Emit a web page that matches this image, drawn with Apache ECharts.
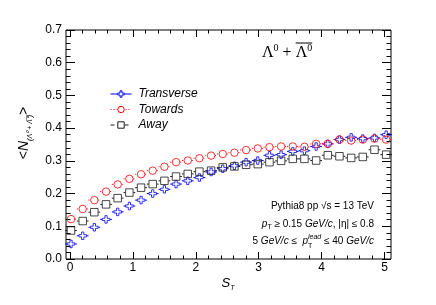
<!DOCTYPE html>
<html><head><meta charset="utf-8">
<script src="https://cdn.jsdelivr.net/npm/echarts@6/dist/echarts.min.js"></script>
<style>html,body{margin:0;padding:0;background:#fff}#c{width:436px;height:305px}</style>
</head><body><div id="c"></div>
<script>
// S_T bin centres
const sT = [0.016, 0.202, 0.387, 0.573, 0.758, 0.944, 1.130, 1.315, 1.501, 1.686,
            1.872, 2.057, 2.243, 2.428, 2.614, 2.800, 2.985, 3.171, 3.356, 3.542,
            3.727, 3.913, 4.099, 4.284, 4.470, 4.655, 4.841, 5.026];
const transverse = [0.046, 0.071, 0.097, 0.121, 0.144, 0.162, 0.180, 0.200, 0.213, 0.229,
                    0.239, 0.249, 0.266, 0.276, 0.285, 0.296, 0.301, 0.317, 0.319, 0.329,
                    0.331, 0.344, 0.352, 0.365, 0.372, 0.368, 0.370, 0.380];
const towards = [0.122, 0.153, 0.180, 0.206, 0.228, 0.245, 0.259, 0.270, 0.282, 0.296,
                 0.301, 0.308, 0.316, 0.321, 0.325, 0.333, 0.338, 0.342, 0.344, 0.344,
                 0.343, 0.352, 0.352, 0.365, 0.362, 0.365, 0.368, 0.365];
const away = [0.087, 0.116, 0.143, 0.167, 0.186, 0.203, 0.218, 0.229, 0.239, 0.252,
              0.260, 0.267, 0.270, 0.280, 0.283, 0.288, 0.290, 0.296, 0.300, 0.306,
              0.306, 0.301, 0.317, 0.314, 0.309, 0.312, 0.334, 0.319];
const seriesNames = ['Transverse', 'Towards', 'Away'];
const binHalf = 0.093;
const xMin = 0, xMax = 5, xStep = 1;
const yMin = 0, yMax = 0.7, yStep = 0.1;

const FONT = '"Liberation Sans", Arial, Helvetica, sans-serif';
const SERIF = '"Liberation Serif", "Times New Roman", serif';
const BLUE = '#0000ff', RED = '#ff0000', BLACK = '#1a1a1a';
const crossPath = 'path://M-1.2,-4L1.2,-4L1.2,-1.2L4,-1.2L4,1.2L1.2,1.2L1.2,4L-1.2,4L-1.2,1.2L-4,1.2L-4,-1.2L-1.2,-1.2Z';

const chart = echarts.init(document.getElementById('c'), null, {renderer: 'canvas'});

function pairs(vals) { return sT.map((x, i) => [x, vals[i]]); }

function barRenderer(color, dash, gap) {
  return function (params, api) {
    const x = api.value(0), y = api.value(1);
    const c = api.coord([x, y]);
    const l = api.coord([x - binHalf, y]);
    const r = api.coord([x + binHalf, y]);
    const style = {stroke: color, lineWidth: 1, lineDash: dash, fill: null};
    return {type: 'group', children: [
      {type: 'line', shape: {x1: l[0], y1: c[1], x2: c[0] - gap, y2: c[1]}, style: style},
      {type: 'line', shape: {x1: c[0] + gap, y1: c[1], x2: r[0], y2: c[1]}, style: style}
    ]};
  };
}

const defs = [
  {name: seriesNames[0], vals: transverse, color: BLUE, dash: null, ltype: 'solid', symbol: crossPath},
  {name: seriesNames[1], vals: towards, color: RED, dash: [1, 2], ltype: [1, 2], symbol: 'circle'},
  {name: seriesNames[2], vals: away, color: BLACK, dash: [4, 3], ltype: [4, 3], symbol: 'rect'}
];

const series = [];
defs.forEach(d => {
  series.push({
    type: 'custom', name: d.name + '_err', xAxisIndex: 0, yAxisIndex: 0,
    renderItem: barRenderer(d.color, d.dash, 4), data: pairs(d.vals), silent: true, z: 2
  });
  series.push({
    type: 'scatter', name: d.name + '_pts', xAxisIndex: 0, yAxisIndex: 0, clip: false,
    symbol: d.symbol, symbolSize: 7.5, data: pairs(d.vals), z: 3,
    itemStyle: {color: 'rgba(0,0,0,0)', borderColor: d.color, borderWidth: 1}
  });
  series.push({
    type: 'line', name: d.name, xAxisIndex: 0, yAxisIndex: 0, data: [],
    symbol: d.symbol, symbolSize: 6,
    lineStyle: {color: d.color, width: 1, type: d.ltype},
    itemStyle: {color: '#fff', borderColor: d.color, borderWidth: 1}
  });
});

const tickCommon = (len, mlen) => ({
  axisLine: {show: false},
  axisTick: {show: true, inside: true, length: len, lineStyle: {color: '#000', width: 1}},
  minorTick: {show: true, splitNumber: 5, length: mlen, lineStyle: {color: '#000', width: 1}},
  splitLine: {show: false}, minorSplitLine: {show: false}
});

const labelStyle = {color: '#000', fontSize: 12, fontFamily: FONT};

// text measuring for overline and stacked p_T^lead
const mctx = document.createElement('canvas').getContext('2d');
function tw(txt, font) { mctx.font = font; return mctx.measureText(txt).width; }
const annX = 374;
const afterP = tw('lead', 'italic 7px ' + FONT) + tw(' \u2264 40 ', '10px ' + FONT) + tw('GeV/c', 'italic 10px ' + FONT);
const titleX = 262, titleY = 53;
const tL = tw('\u039B', '16px ' + SERIF), t0 = tw('0', '10px ' + SERIF), tP = tw(' + ', '16px ' + SERIF);
const olX1 = titleX + tL + t0 + tP, olX2 = olX1 + tL + t0;

chart.setOption({
  animation: false,
  backgroundColor: '#fff',
  grid: [
    {left: 70, right: 51.5, top: 30, bottom: 46, show: false},
    {left: 66, right: 45, top: 30, bottom: 46, show: true, borderColor: '#000', borderWidth: 1, backgroundColor: 'transparent'}
  ],
  xAxis: [
    Object.assign({gridIndex: 0, type: 'value', min: xMin, max: xMax, interval: xStep, position: 'bottom',
      axisLabel: Object.assign({margin: 3, formatter: v => String(v)}, labelStyle)}, tickCommon(7, 3.5)),
    Object.assign({gridIndex: 0, type: 'value', min: xMin, max: xMax, interval: xStep, position: 'top',
      axisLabel: {show: false}}, tickCommon(7, 3.5)),
    {gridIndex: 1, type: 'value', min: 0, max: 1, show: false}
  ],
  yAxis: [
    {gridIndex: 0, type: 'value', min: yMin, max: yMax, show: false},
    Object.assign({gridIndex: 1, type: 'value', min: yMin, max: yMax, interval: yStep, position: 'left',
      axisLabel: Object.assign({margin: 4, formatter: v => v.toFixed(1)}, labelStyle)}, tickCommon(9, 4.5)),
    Object.assign({gridIndex: 1, type: 'value', min: yMin, max: yMax, interval: yStep, position: 'right',
      axisLabel: {show: false}}, tickCommon(9, 4.5))
  ],
  legend: {
    data: seriesNames, orient: 'vertical', left: 105, top: 82,
    itemWidth: 21, itemHeight: 8, itemGap: 1.5,
    itemStyle: {color: '#fff', borderWidth: 1},
    lineStyle: {width: 1},
    textStyle: {fontFamily: FONT, fontSize: 12, fontStyle: 'italic', color: '#000', lineHeight: 14, padding: [0, 0, 0, 2]},
    selectedMode: false
  },
  series: series,
  graphic: [
    {type: 'text', x: titleX, y: titleY, style: {
      text: '{L|\u039B}{s|0}{L| + \u039B}{s|0}', verticalAlign: 'middle', align: 'left',
      rich: {L: {fontSize: 16, fontFamily: SERIF, fill: '#000', verticalAlign: 'middle', lineHeight: 19},
             s: {fontSize: 10, fontFamily: SERIF, fill: '#000', verticalAlign: 'top'}}}},
    {type: 'line', shape: {x1: olX1, y1: 43, x2: olX2, y2: 43}, style: {stroke: '#000', lineWidth: 1}},
    {type: 'text', x: annX, y: 206, style: {text: 'Pythia8 pp \u221As = 13 TeV', fontSize: 10, fontFamily: FONT,
      fill: '#000', align: 'right', verticalAlign: 'middle'}},
    {type: 'text', x: annX, y: 224, style: {
      text: '{i|p}{sub|T}{r| \u2265 0.15 }{i|GeV/c}{r|, |\u03B7| \u2264 0.8}', align: 'right', verticalAlign: 'middle',
      rich: {i: {fontSize: 10, fontStyle: 'italic', fontFamily: FONT, fill: '#000', lineHeight: 14},
             r: {fontSize: 10, fontFamily: FONT, fill: '#000', lineHeight: 14},
             sub: {fontSize: 7, fontFamily: FONT, fill: '#000', verticalAlign: 'bottom'}}}},
    {type: 'text', x: annX, y: 241, style: {
      text: '{r|5 }{i|GeV/c}{r| \u2264  }{i|p}{sup|lead}{r| \u2264 40 }{i|GeV/c}', align: 'right', verticalAlign: 'middle',
      rich: {i: {fontSize: 10, fontStyle: 'italic', fontFamily: FONT, fill: '#000', lineHeight: 14},
             r: {fontSize: 10, fontFamily: FONT, fill: '#000', lineHeight: 14},
             sup: {fontSize: 7, fontStyle: 'italic', fontFamily: FONT, fill: '#000', verticalAlign: 'top'}}}},
    {type: 'text', x: annX - afterP, y: 246, style: {text: 'T', fontSize: 7, fontFamily: FONT, fill: '#000',
      align: 'left', verticalAlign: 'middle'}},
    {type: 'text', x: 24, y: 133, rotation: Math.PI / 2, style: {
      text: '{m|<}{n|N}{sub|(\u039B\u2070 + \u039B\u0305\u2070)}{m|>}', align: 'center', verticalAlign: 'middle',
      rich: {m: {fontSize: 14, fontFamily: FONT, fill: '#000', lineHeight: 20},
             n: {fontSize: 14, fontStyle: 'italic', fontFamily: FONT, fill: '#000', lineHeight: 20},
             sub: {fontSize: 7, fontStyle: 'italic', fontFamily: FONT, fill: '#000', verticalAlign: 'bottom'}}}},
    {type: 'text', x: 228, y: 283, style: {
      text: '{s|S}{t|T}', align: 'center', verticalAlign: 'middle',
      rich: {s: {fontSize: 13, fontStyle: 'italic', fontFamily: FONT, fill: '#000', lineHeight: 18},
             t: {fontSize: 7, fontStyle: 'italic', fontFamily: FONT, fill: '#000', verticalAlign: 'bottom'}}}}
  ]
});
</script></body></html>
